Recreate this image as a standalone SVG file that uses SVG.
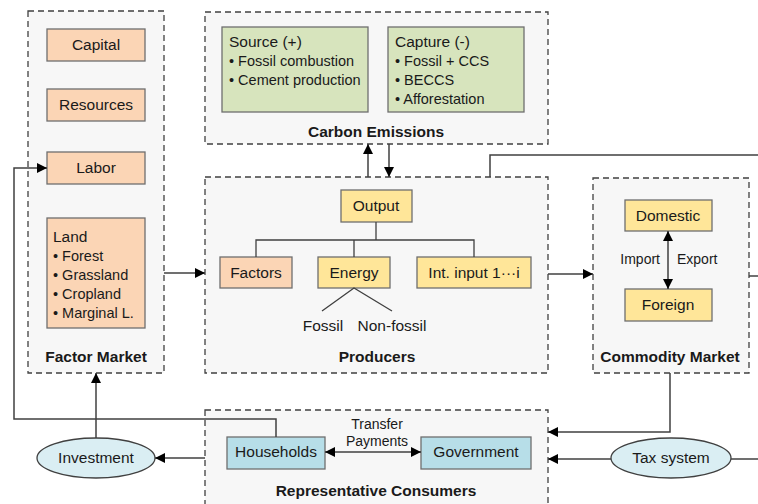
<svg xmlns="http://www.w3.org/2000/svg" width="758" height="504" viewBox="0 0 758 504">
<defs>
<marker id="ah" viewBox="0 0 10 10" refX="10" refY="5" markerWidth="10" markerHeight="10" markerUnits="userSpaceOnUse" orient="auto-start-reverse">
<path d="M0,0 L10,5 L0,10 z" fill="#000"/>
</marker>
<style>
text{font-family:"Liberation Sans",Arial,sans-serif;fill:#1a1a1a}
.grp{fill:#f7f7f7;stroke:#404040;stroke-width:1.3;stroke-dasharray:6,4}
.peach{fill:#fbd5b5;stroke:#6f6f6f;stroke-width:1.3}
.green{fill:#d7e4bd;stroke:#6f6f6f;stroke-width:1.3}
.yellow{fill:#ffe699;stroke:#6f6f6f;stroke-width:1.3}
.blue{fill:#b7dee8;stroke:#6f6f6f;stroke-width:1.3}
.ell{fill:#daeef3;stroke:#404040;stroke-width:1.3}
.lbl{font-size:15.5px;text-anchor:middle}
.item{font-size:14.5px}
.title{font-size:15.5px;font-weight:bold;text-anchor:middle}
.small{font-size:14px}
.ln{fill:none;stroke:#404040;stroke-width:1.5}
.arr{fill:none;stroke:#404040;stroke-width:1.5;marker-end:url(#ah)}
.tree{fill:none;stroke:#404040;stroke-width:1.3}
</style>
</defs>

<g id="factor-market">
<rect class="grp" x="28" y="11" width="136" height="362"/>
<text class="title" x="96" y="362">Factor Market</text>
</g>
<g id="capital"><rect class="peach" x="47" y="29" width="98" height="32"/><text class="lbl" x="96" y="50">Capital</text></g>
<g id="resources"><rect class="peach" x="47" y="89" width="98" height="32"/><text class="lbl" x="96" y="110">Resources</text></g>
<g id="labor"><rect class="peach" x="47" y="152" width="98" height="32"/><text class="lbl" x="96" y="173">Labor</text></g>
<g id="land"><rect class="peach" x="47" y="218" width="98" height="110"/>
<text x="53" y="242" style="font-size:15.5px">Land</text>
<text class="item" x="53" y="261">• Forest</text>
<text class="item" x="53" y="280">• Grassland</text>
<text class="item" x="53" y="299">• Cropland</text>
<text class="item" x="53" y="318">• Marginal L.</text>
</g>

<g id="carbon-emissions">
<rect class="grp" x="205" y="12" width="343" height="132"/>
<text class="title" x="376" y="137">Carbon Emissions</text>
</g>
<g id="source"><rect class="green" x="222" y="27" width="146" height="85"/>
<text x="229" y="47" style="font-size:15.5px">Source (+)</text>
<text class="item" x="229" y="66">• Fossil combustion</text>
<text class="item" x="229" y="85">• Cement production</text>
</g>
<g id="capture"><rect class="green" x="388" y="27" width="136" height="85"/>
<text x="395" y="47" style="font-size:15.5px">Capture (-)</text>
<text class="item" x="395" y="66">• Fossil + CCS</text>
<text class="item" x="395" y="85">• BECCS</text>
<text class="item" x="395" y="104">• Afforestation</text>
</g>

<g id="producers">
<rect class="grp" x="205" y="177" width="343" height="196"/>
<text class="title" x="377" y="362">Producers</text>
</g>
<g id="output"><rect class="yellow" x="341" y="190" width="71" height="32"/><text class="lbl" x="376" y="211">Output</text></g>
<g id="factors"><rect class="peach" x="220" y="257" width="72" height="31"/><text class="lbl" x="256" y="278">Factors</text></g>
<g id="energy"><rect class="yellow" x="318" y="257" width="72" height="31"/><text class="lbl" x="354" y="278">Energy</text></g>
<g id="int-input"><rect class="yellow" x="417" y="257" width="114" height="31"/><text class="lbl" x="474" y="278">Int. input 1···i</text></g>
<g id="fossil"><text x="323" y="331" text-anchor="middle" style="font-size:15.5px">Fossil</text></g>
<g id="non-fossil"><text x="392" y="331" text-anchor="middle" style="font-size:15.5px">Non-fossil</text></g>

<g id="commodity-market">
<rect class="grp" x="593" y="178" width="156" height="195"/>
<text class="title" x="670" y="362">Commodity Market</text>
</g>
<g id="domestic"><rect class="yellow" x="625" y="200" width="87" height="31"/><text class="lbl" x="668" y="221">Domestic</text></g>
<g id="foreign"><rect class="yellow" x="625" y="289" width="87" height="32"/><text class="lbl" x="668" y="310">Foreign</text></g>

<g id="representative-consumers">
<rect class="grp" x="205" y="410" width="343" height="100"/>
<text class="title" x="376" y="496">Representative Consumers</text>
</g>
<g id="households"><rect class="blue" x="227" y="437" width="98" height="32"/><text class="lbl" x="276" y="457">Households</text></g>
<g id="government"><rect class="blue" x="421" y="437" width="110" height="32"/><text class="lbl" x="476" y="457">Government</text></g>

<g id="investment"><ellipse class="ell" cx="96" cy="458" rx="59" ry="20"/><text class="lbl" x="96" y="463">Investment</text></g>
<g id="tax-system"><ellipse class="ell" cx="671" cy="458" rx="60" ry="20"/><text class="lbl" x="671" y="463">Tax system</text></g>

<g id="connectors">
<polyline class="tree" points="376,222 376,240"/>
<polyline class="tree" points="256,257 256,240 474,240 474,257"/>
<line class="tree" x1="354" y1="240" x2="354" y2="257"/>
<polyline class="tree" points="322,311 354,288 392,311"/>

<line class="arr" x1="164" y1="273" x2="205" y2="273"/>
<line class="arr" x1="548" y1="274" x2="593" y2="274"/>
<line class="arr" x1="368" y1="177" x2="368" y2="144"/>
<line class="arr" x1="389" y1="144" x2="389" y2="177"/>
<polyline class="ln" points="490,177 490,155 758,155"/>
<line class="ln" x1="749" y1="276" x2="758" y2="276"/>
<line class="arr" x1="668" y1="231" x2="668" y2="289" style="marker-start:url(#ah)"/>
<polyline class="arr" points="670,373 670,432 548,432"/>
<line class="arr" x1="611" y1="459" x2="548" y2="459"/>
<line class="ln" x1="731" y1="459" x2="758" y2="459"/>
<line class="arr" x1="325" y1="452" x2="421" y2="452" style="marker-start:url(#ah)"/>
<line class="arr" x1="205" y1="458" x2="155" y2="458"/>
<line class="arr" x1="96" y1="438" x2="96" y2="373"/>
<polyline class="arr" points="276,437 276,419 14,419 14,168 47,168"/>
</g>

<g id="labels">
<text class="small" x="660" y="264" text-anchor="end">Import</text>
<text class="small" x="677" y="264">Export</text>
<text class="small" x="377" y="429" text-anchor="middle">Transfer</text>
<text class="small" x="377" y="446" text-anchor="middle">Payments</text>
</g>
</svg>
